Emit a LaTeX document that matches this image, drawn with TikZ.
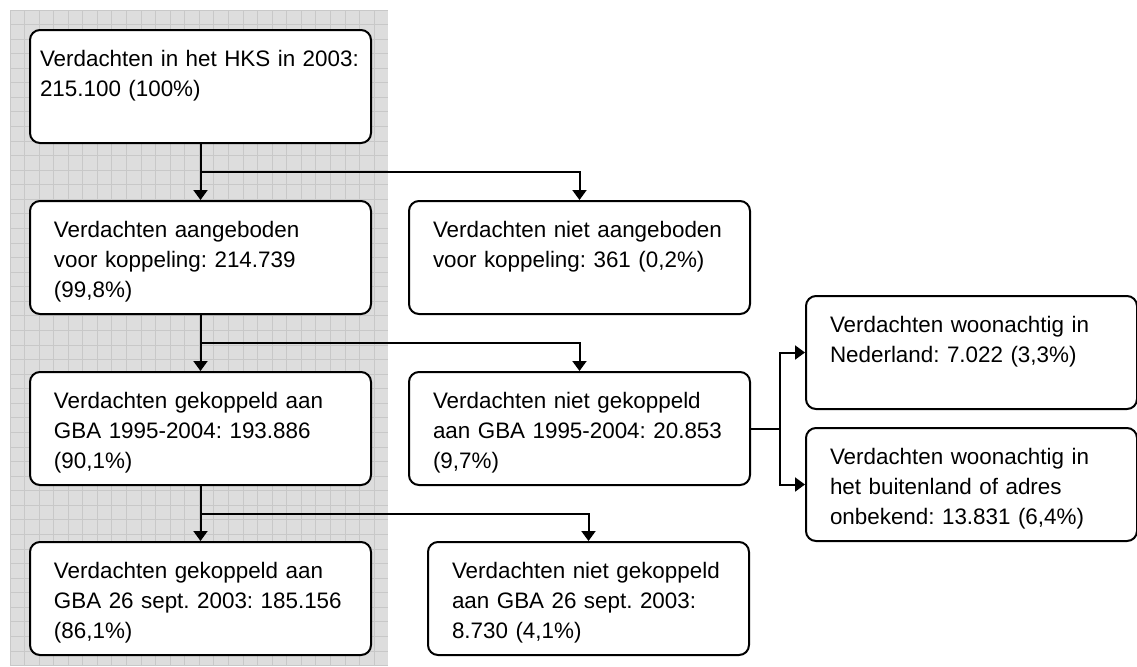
\documentclass[tikz,border=0pt]{standalone}
\usepackage{fontspec}
\setmainfont{Liberation Sans}
\usepackage{xcolor}
\usetikzlibrary{calc, arrows.meta}

\definecolor{rasterbg}{RGB}{221,221,221}
\definecolor{rasterlijn}{RGB}{200,200,200}

\tikzset{
	stapbox/.style={draw, fill=white, rounded corners=5pt, line width=1pt,
		anchor=north west, align=left, inner xsep=12pt, inner ysep=8.25pt,
		text height=10pt, text depth=30pt, text width=146.5pt,
		font=\fontsize{11.2}{15}\selectfont\frenchspacing},
	pijl/.style={line width=1pt, -{Triangle[width=7pt,length=5pt]}},
}

\begin{document}
\begin{tikzpicture}[x=0.5pt, y=-0.5pt]
				\def\xLINKS{29};
				\def\xRECHTS{408};
		
				\useasboundingbox (0,0) rectangle (1137,666);
		
				% raster achter de linker kolom
				\fill[rasterbg] (10,10) rectangle (388,666);
				\begin{scope}[shift={(10,10)}]
					\draw[rasterlijn, line width=0.5pt, step=7.285pt] (0,0) grid (378,656);
				\end{scope}
		
				\node[stapbox, inner xsep=5pt, text width=160.5pt] (hks) at (\xLINKS,29) {Verdachten in het HKS in 2003:\\215.100 (100\%)};
				\node[stapbox] (aangeb) at (\xLINKS,200) {Verdachten aangeboden\\voor koppeling: 214.739\\(99,8\%)};
				\node[stapbox] (gba) at (\xLINKS,371) {Verdachten gekoppeld aan\\GBA 1995-2004: 193.886\\(90,1\%)};
				\node[stapbox] (sept) at (\xLINKS,541) {Verdachten gekoppeld aan\\GBA 26 sept. 2003: 185.156\\(86,1\%)};
		
				\node[stapbox] (nietaangeb) at (\xRECHTS,200) {Verdachten niet aangeboden\\voor koppeling: 361 (0,2\%)};
				\node[stapbox] (nietgba) at (\xRECHTS,371) {Verdachten niet gekoppeld\\aan GBA 1995-2004: 20.853\\(9,7\%)};
				\node[stapbox, text width=136.5pt] (nietsept) at (427,541) {Verdachten niet gekoppeld\\aan GBA 26 sept. 2003:\\8.730 (4,1\%)};
		
				\node[stapbox, text width=141.5pt] (nl) at (805,295) {Verdachten woonachtig in\\Nederland: 7.022 (3,3\%)};
				\node[stapbox, text width=141.5pt] (buitenl) at (805,427) {Verdachten woonachtig in\\het buitenland of adres\\onbekend: 13.831 (6,4\%)};
		
				\begin{scope}[pijl]
					\draw (hks.south) -- (aangeb.north);
					\draw ($(hks.south)!.5!(aangeb.north)$) -| (nietaangeb.north);
					\draw (aangeb.south) -- (gba.north);
					\draw ($(aangeb.south)!.5!(gba.north)$) -| (nietgba.north);
					\draw (gba.south) -- (sept.north);
					\draw ($(gba.south)!.5!(sept.north)$) -| (nietsept.north);
				\end{scope}
		
				\draw[line width=1pt] (nietgba.east) -- ++(29,0) coordinate (splits);
				\draw[pijl] (splits) |- (nl.west);
				\draw[pijl] (splits) |- (buitenl.west);
			\end{tikzpicture}
\end{document}
